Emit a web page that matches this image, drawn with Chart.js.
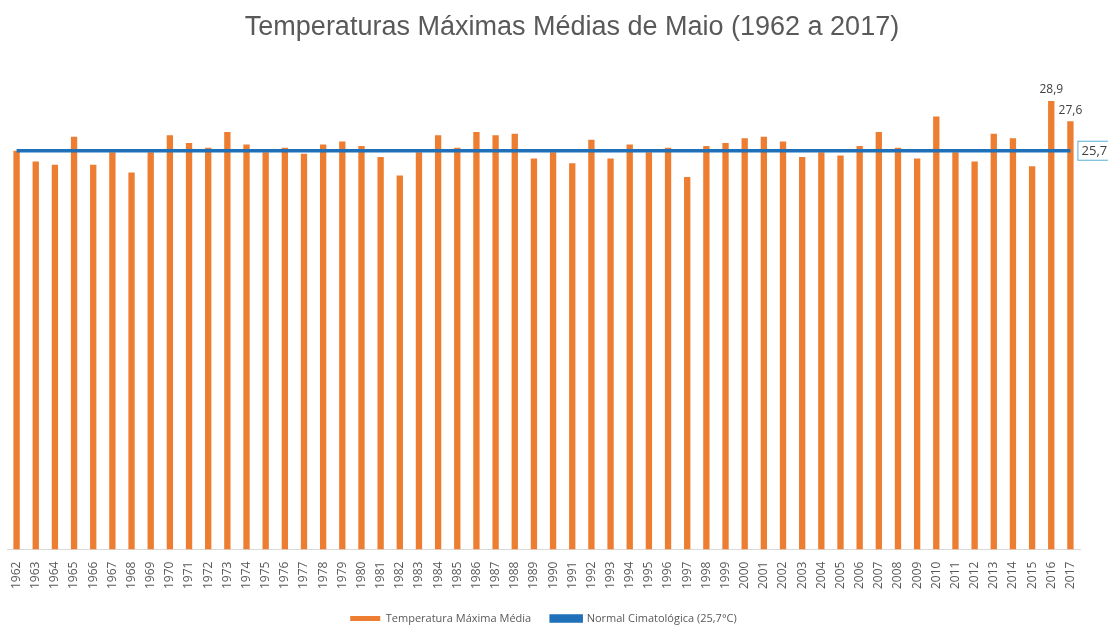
<!DOCTYPE html>
<html>
<head>
  <meta charset="utf-8">
  <title>Temperaturas Máximas Médias de Maio</title>
  <script src="https://cdn.jsdelivr.net/npm/chart.js"></script>
  <style>
    body { margin: 0; background: #fff; }
    #wrap { width: 1108px; height: 628px; }
  </style>
</head>
<body>
  <div id="wrap"><canvas id="chart"></canvas></div>
  <script>
    const chartTitle = 'Temperaturas Máximas Médias de Maio (1962 a 2017)';

    // anos (1962 a 2017)
    const years = ['1962','1963','1964','1965','1966','1967','1968','1969','1970','1971',
      '1972','1973','1974','1975','1976','1977','1978','1979','1980','1981',
      '1982','1983','1984','1985','1986','1987','1988','1989','1990','1991',
      '1992','1993','1994','1995','1996','1997','1998','1999','2000','2001',
      '2002','2003','2004','2005','2006','2007','2008','2009','2010','2011',
      '2012','2013','2014','2015','2016','2017'];

    // temperatura máxima média de maio (°C)
    const tmax = [25.7, 25.0, 24.8, 26.6, 24.8, 25.6, 24.3, 25.6, 26.7, 26.2,
      25.9, 26.9, 26.1, 25.6, 25.9, 25.5, 26.1, 26.3, 26.0, 25.3,
      24.1, 25.6, 26.7, 25.9, 26.9, 26.7, 26.8, 25.2, 25.6, 24.9,
      26.4, 25.2, 26.1, 25.6, 25.9, 24.0, 26.0, 26.2, 26.5, 26.6,
      26.3, 25.3, 25.6, 25.4, 26.0, 26.9, 25.9, 25.2, 27.9, 25.6,
      25.0, 26.8, 26.5, 24.7, 28.9, 27.6];

    const normal = 25.7;
    const normalLine = years.map(() => normal);

    // anos com rótulo de valor
    const labelledYears = ['2016', '2017'];

    const fmt = v => v.toFixed(1).replace('.', ',');

    // título, valores das barras e caixa da normal
    const labelsPlugin = {
      id: 'labels',
      afterDraw(chart) {
        const ctx = chart.ctx;
        const x = chart.scales.x, y = chart.scales.y;
        ctx.save();

        ctx.font = '27px "Liberation Sans", Arial';
        ctx.fillStyle = '#595959';
        ctx.textAlign = 'center';
        ctx.textBaseline = 'middle';
        ctx.fillText(chartTitle, 572, 28);

        ctx.font = '12px "Open Sans"';
        ctx.fillStyle = '#404040';
        ctx.textBaseline = 'bottom';
        labelledYears.forEach(yr => {
          const i = years.indexOf(yr);
          ctx.fillText(fmt(tmax[i]), x.getPixelForValue(i), y.getPixelForValue(tmax[i]) - 5);
        });

        // caixa "25,7" no fim da linha
        const lx = x.getPixelForValue(years.length - 1) + 7;
        const ly = y.getPixelForValue(normal);
        ctx.fillStyle = '#fff';
        ctx.fillRect(lx, ly - 10, 34, 20);
        ctx.strokeStyle = '#5ab0d8';
        ctx.lineWidth = 1;
        ctx.strokeRect(lx + 0.5, ly - 9.5, 33, 19);
        ctx.font = '13px "Open Sans"';
        ctx.fillStyle = '#404040';
        ctx.textBaseline = 'middle';
        ctx.fillText(fmt(normal), lx + 17, ly + 1);
        ctx.restore();
      }
    };

    const ctx = document.getElementById('chart').getContext('2d');
    new Chart(ctx, {
      data: {
        labels: years,
        datasets: [{
          type: 'bar',
          label: 'Temperatura Máxima Média',
          data: tmax,
          backgroundColor: '#ED7D31',
          barPercentage: 0.33,
          categoryPercentage: 1,
          order: 2
        }, {
          type: 'line',
          label: 'Normal Cimatológica (25,7°C)',
          data: normalLine,
          borderColor: '#1F70B8',
          backgroundColor: '#1F70B8',
          borderWidth: 3.5,
          pointRadius: 0,
          order: 1
        }]
      },
      options: {
        responsive: true,
        maintainAspectRatio: false,
        animation: false,
        layout: { padding: { left: 7, right: 28, top: 84, bottom: -6 } },
        plugins: {
          title: { display: false },
          legend: {
            position: 'bottom',
            labels: {
              color: '#595959',
              font: { family: '"Open Sans"', size: 11 },
              boxWidth: 30,
              boxHeight: 5,
              padding: 20,
              sort: (a, b) => a.datasetIndex - b.datasetIndex
            }
          },
          tooltip: { enabled: false }
        },
        scales: {
          x: {
            grid: { display: false },
            border: { color: '#d9d9d9' },
            ticks: {
              color: '#595959',
              font: { family: '"Open Sans"', size: 12 },
              minRotation: 90,
              maxRotation: 90,
              autoSkip: false,
              padding: 4
            }
          },
          y: {
            display: false,
            min: 0,
            max: 30
          }
        }
      },
      plugins: [labelsPlugin]
    });
  </script>
</body>
</html>
